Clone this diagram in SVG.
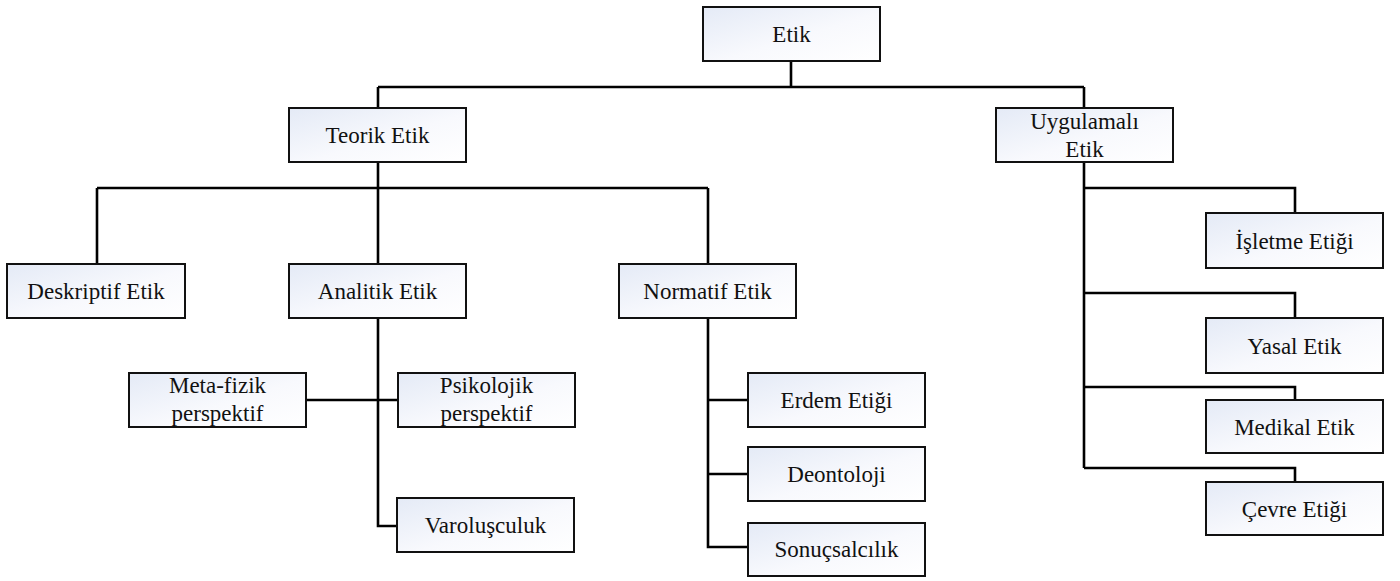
<svg xmlns="http://www.w3.org/2000/svg" width="1400" height="581" viewBox="0 0 1400 581" font-family="'Liberation Serif', 'Times New Roman', 'Noto Serif', 'DejaVu Serif', serif">
  <defs>
    <linearGradient id="boxFill" x1="0" y1="0" x2="1" y2="1">
      <stop offset="0" stop-color="#e4eaf6"/>
      <stop offset="0.55" stop-color="#f8f9fd"/>
      <stop offset="1" stop-color="#ffffff"/>
    </linearGradient>
    <style>
      text { font-family: 'Liberation Serif', 'Times New Roman', 'Noto Serif', 'DejaVu Serif', serif; }
      .box { fill: url(#boxFill); stroke: #111; stroke-width: 2; }
      .lbl { font-size: 23px; fill: #111; text-anchor: middle; }
      .wire { fill: none; stroke: #000; stroke-width: 2.6; stroke-linejoin: miter; }
    </style>
  </defs>

  <rect width="1400" height="581" fill="#ffffff"/>

  <!-- connectors -->
  <g id="connectors" class="wire">
    <path d="M791,61 V87 M378,87 H1084 M378,87 V108 M1084,87 V108"/>
    <path d="M378,162 V188 M97,188 H708 M97,188 V264 M378,188 V264 M708,188 V264"/>
    <path d="M378,318 V526 H397 M306,400 H398"/>
    <path d="M708,318 V547 H748 M708,400 H748 M708,474 H748"/>
    <path d="M1084,162 V468 M1084,188 H1295 V213 M1084,293 H1295 V318 M1084,387 H1295 V400 M1084,468 H1295 V482"/>
  </g>

  <!-- nodes -->
  <g id="nodes">
    <g id="etik"><rect class="box" x="703" y="7" width="177" height="54"/><text class="lbl" x="791.5" y="42">Etik</text></g>
    <g id="teorik-etik"><rect class="box" x="289" y="108" width="177" height="54"/><text class="lbl" x="377.5" y="143">Teorik Etik</text></g>
    <g id="uygulamali-etik"><rect class="box" x="996" y="108" width="177" height="54"/><text class="lbl" x="1084.5" y="129">Uygulamalı</text><text class="lbl" x="1084.5" y="157">Etik</text></g>
    <g id="deskriptif-etik"><rect class="box" x="7" y="264" width="178" height="54"/><text class="lbl" x="96" y="299">Deskriptif Etik</text></g>
    <g id="analitik-etik"><rect class="box" x="289" y="264" width="177" height="54"/><text class="lbl" x="377.5" y="299">Analitik Etik</text></g>
    <g id="normatif-etik"><rect class="box" x="619" y="264" width="177" height="54"/><text class="lbl" x="707.5" y="299">Normatif Etik</text></g>
    <g id="meta-fizik"><rect class="box" x="129" y="373" width="177" height="54"/><text class="lbl" x="217.5" y="393">Meta-fizik</text><text class="lbl" x="217.5" y="421">perspektif</text></g>
    <g id="psikolojik"><rect class="box" x="398" y="373" width="177" height="54"/><text class="lbl" x="486.5" y="393">Psikolojik</text><text class="lbl" x="486.5" y="421">perspektif</text></g>
    <g id="varolusculuk"><rect class="box" x="397" y="498" width="177" height="54"/><text class="lbl" x="485.5" y="533">Varoluşculuk</text></g>
    <g id="erdem-etigi"><rect class="box" x="748" y="373" width="177" height="54"/><text class="lbl" x="836.5" y="408">Erdem Etiği</text></g>
    <g id="deontoloji"><rect class="box" x="748" y="447" width="177" height="54"/><text class="lbl" x="836.5" y="482">Deontoloji</text></g>
    <g id="sonucsalcilik"><rect class="box" x="748" y="523" width="177" height="53"/><text class="lbl" x="836.5" y="557">Sonuçsalcılık</text></g>
    <g id="isletme-etigi"><rect class="box" x="1206" y="213" width="177" height="55"/><text class="lbl" x="1294.5" y="249">İşletme Etiği</text></g>
    <g id="yasal-etik"><rect class="box" x="1206" y="318" width="177" height="55"/><text class="lbl" x="1294.5" y="354">Yasal Etik</text></g>
    <g id="medikal-etik"><rect class="box" x="1206" y="400" width="177" height="53"/><text class="lbl" x="1294.5" y="435">Medikal Etik</text></g>
    <g id="cevre-etigi"><rect class="box" x="1206" y="482" width="177" height="53"/><text class="lbl" x="1294.5" y="517">Çevre Etiği</text></g>
  </g>
</svg>
